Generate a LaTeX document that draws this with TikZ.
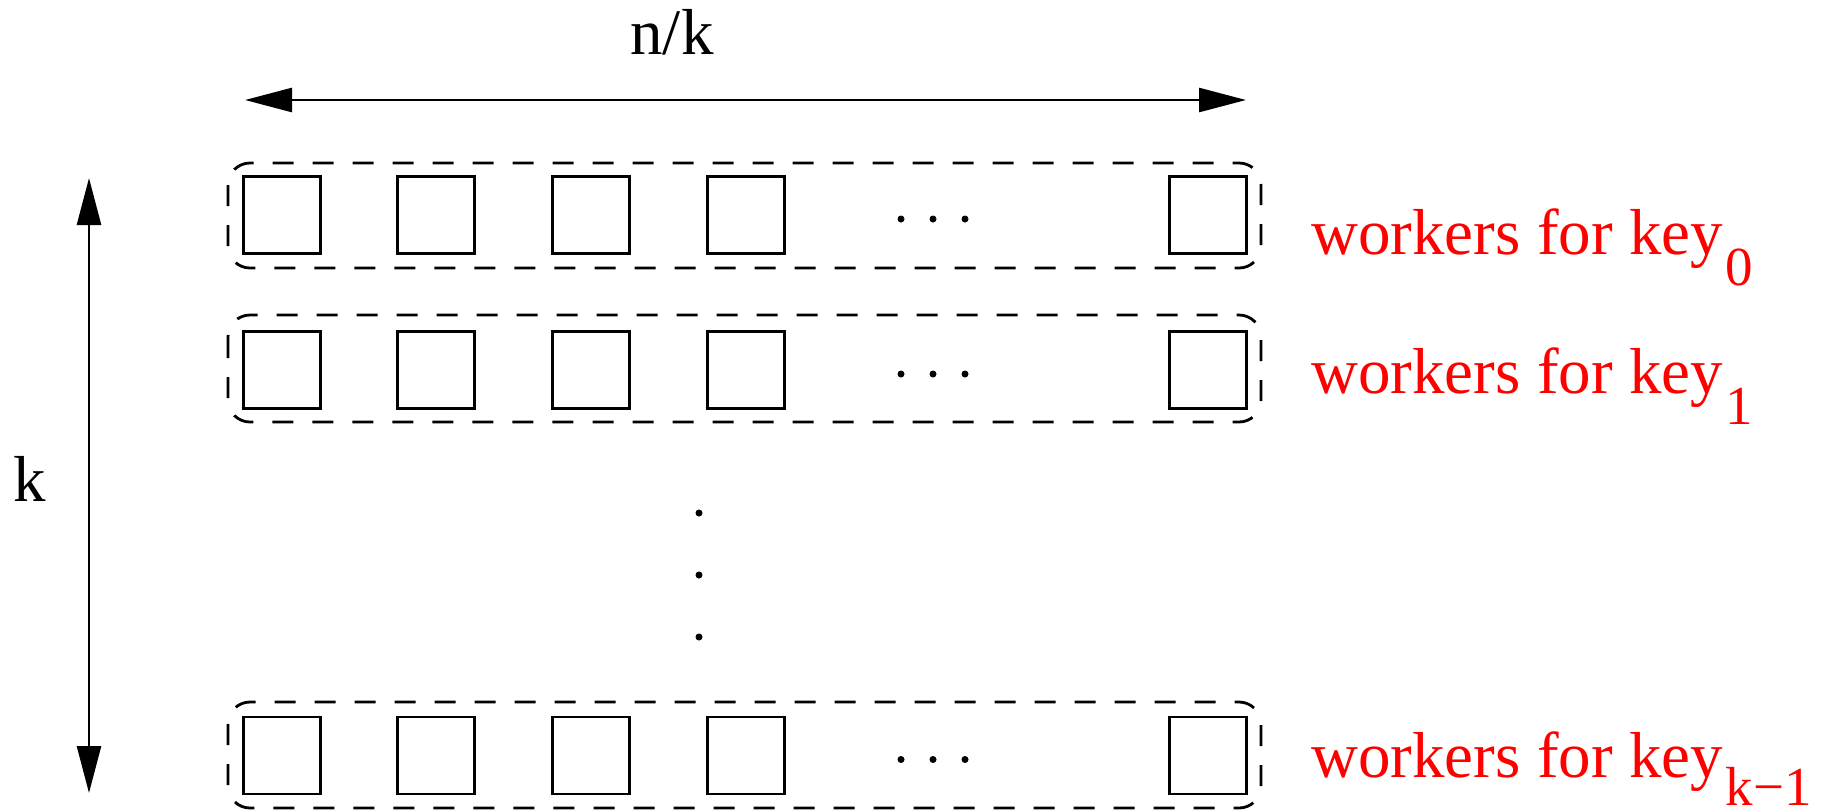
\documentclass[tikz,border=0pt]{standalone}
\usepackage{fontspec}
\setmainfont{Liberation Serif}
\usetikzlibrary{arrows.meta}
\begin{document}
\begin{tikzpicture}[x=0.5pt,y=-0.5pt,
  worker/.style={draw,line width=1.3pt,minimum width=38.5pt,minimum height=38.5pt,inner sep=0pt},
  group/.style={draw,line width=1.4pt,dash pattern=on 10.5pt off 9.5pt,rounded corners=11pt},
  dim/.style={line width=1.3pt,{Triangle[length=23.5pt,width=12pt]}-{Triangle[length=23.5pt,width=12pt]}},
  dot/.style={circle,fill,inner sep=0pt,minimum size=3.5pt},
  keylabel/.style={anchor=base west,inner sep=0pt,text=red,font=\fontsize{32.5}{39}\selectfont},
  dimlabel/.style={inner sep=0pt,font=\fontsize{32.5}{39}\selectfont}]
\useasboundingbox (0,0) rectangle (1826,811);

% lowered index after a row label (optional argument: how far it drops)
\newcommand\keyindex[2][15.5pt]{\kern1.5pt\raisebox{-#1}[0pt][0pt]{\fontsize{27.5}{33}\selectfont #2}}

% one row of workers per key, grouped by a dashed rounded frame
\foreach \r/\y/\t/\b in {a/215/163/268, b/370/315/422, c/755.5/702/808} {
  \draw[group] (228,\t) rectangle (1261,\b);
  \foreach \c/\x in {1/282,2/436,3/591,4/746,5/1208}
    \node[worker] (\r\c) at (\x,\y) {};
  \foreach \c/\x in {1/901,2/933,3/965}
    \node[dot] (\r d\c) at (\x,\y+4) {};
}

% rows left out between key_1 and key_{k-1}
\node[dot] (v1) at (699,513) {};
\node[dot] (v2) at (699,575) {};
\node[dot] (v3) at (699,637) {};

% row labels
\node[keylabel] (la) at (1311,254) {workers for key\keyindex{0}};
\node[keylabel] (lb) at (1311,393) {workers for key\keyindex{1}};
\node[keylabel] (lc) at (1311,777) {workers for key\keyindex[14pt]{k−1}};

% dimensions
\coordinate (hl) at (245,100);
\coordinate (hr) at (1246,100);
\draw[dim] (hl) -- (hr);
\node[dimlabel,anchor=base] (nk) at (672,54) {n/k};

\coordinate (vt) at (89,178);
\coordinate (vb) at (89,793);
\draw[dim] (vt) -- (vb);
\node[dimlabel,anchor=base west] (kk) at (13,501) {k};
\end{tikzpicture}
\end{document}
